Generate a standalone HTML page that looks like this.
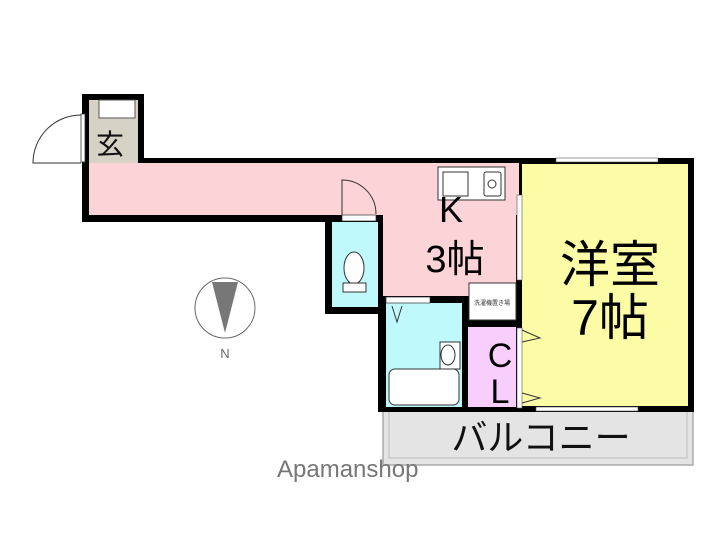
<!DOCTYPE html>
<html><head><meta charset="utf-8"><style>
html,body{margin:0;padding:0;background:#fff;width:720px;height:540px;overflow:hidden}
</style></head><body>
<svg width="720" height="540" viewBox="0 0 720 540" xmlns="http://www.w3.org/2000/svg" font-family="'Liberation Sans','Noto Sans CJK JP',sans-serif">
<!-- balcony -->
<rect x="383" y="410" width="310" height="55" fill="#e4e4e4" stroke="#aaa" stroke-width="1.5"/>
<rect x="389" y="410" width="298" height="48" fill="none" stroke="#bbb" stroke-width="1"/>
<text x="541" y="450" font-size="36" text-anchor="middle" fill="#111">バルコニー</text>
<!-- walls base -->
<rect x="82" y="94" width="62" height="72" fill="#000"/>
<rect x="82" y="158" width="442" height="64" fill="#000"/>
<rect x="325" y="215" width="62" height="99" fill="#000"/>
<rect x="378" y="158" width="146" height="254" fill="#000"/>
<rect x="516" y="158" width="178" height="254" fill="#000"/>
<!-- genkan -->
<rect x="89" y="100" width="49" height="63" fill="#d6d2c6"/>
<rect x="99" y="100" width="36" height="18" fill="#fff" stroke="#555" stroke-width="1"/>
<text x="110" y="154" font-size="28" text-anchor="middle" fill="#111">玄</text>
<!-- corridor -->
<rect x="89" y="163" width="430" height="52" fill="#fcd3d6"/>
<rect x="383" y="163" width="133" height="133" fill="#fcd3d6"/>
<!-- front door -->
<rect x="81" y="114" width="4" height="48" fill="#fff" stroke="#333" stroke-width="0.8"/>
<path d="M81 163 L33 163 A48 48 0 0 1 81 115" fill="none" stroke="#333" stroke-width="1"/>
<!-- toilet -->
<rect x="332" y="222" width="46" height="85" fill="#bff9fc"/>
<rect x="342" y="215" width="34" height="6" fill="#fff" stroke="#333" stroke-width="0.7"/>
<path d="M342 215 L342 180 A34 34 0 0 1 376 214" fill="none" stroke="#333" stroke-width="1"/>
<ellipse cx="354" cy="268" rx="10" ry="16" fill="#fff" stroke="#333"/>
<rect x="343" y="283" width="23" height="9" fill="#fff" stroke="#333"/>
<!-- kitchen sink -->
<rect x="438" y="167" width="67" height="33" fill="#fff" stroke="#333"/>
<rect x="443" y="172" width="25" height="24" fill="#fff" stroke="#333"/>
<rect x="484" y="172" width="17" height="24" rx="2" fill="#fff" stroke="#333"/>
<circle cx="492" cy="184" r="4" fill="#fff" stroke="#333"/>
<text x="451" y="222" font-size="36" text-anchor="middle" fill="#000">K</text>
<text x="455" y="272" font-size="38" text-anchor="middle" fill="#000">3帖</text>
<!-- bath -->
<rect x="386" y="303" width="76" height="104" fill="#bff9fc"/>
<rect x="386" y="297" width="44" height="6" fill="#fff" stroke="#333" stroke-width="0.7"/>
<path d="M392 306 L397 322 L402 306" fill="none" stroke="#333"/>
<rect x="389" y="369" width="70" height="36" rx="6" fill="#fff" stroke="#333"/>
<rect x="440" y="342" width="20" height="27" fill="#fff" stroke="#333"/>
<ellipse cx="448" cy="355" rx="7" ry="10" fill="#fff" stroke="#333"/>
<!-- washer -->
<rect x="469" y="283" width="47" height="37" fill="#fff" stroke="#333"/>
<text x="492" y="305" font-size="6" text-anchor="middle" fill="#333">洗濯機置き場</text>
<!-- CL -->
<rect x="468" y="327" width="48" height="80" fill="#f8cffc"/>
<text x="500" y="367" font-size="34" text-anchor="middle" fill="#000">C</text>
<text x="500" y="403" font-size="34" text-anchor="middle" fill="#000">L</text>
<!-- youshitsu -->
<rect x="522" y="164" width="166" height="242" fill="#fdfca6"/>
<rect x="517" y="195" width="5" height="85" fill="#fff" stroke="#555" stroke-width="0.6"/>
<rect x="517" y="328" width="5" height="80" fill="#fff" stroke="#555" stroke-width="0.6"/>
<path d="M522 330 L540 338 L522 342 M522 393 L540 398 L522 403" fill="none" stroke="#333"/>
<rect x="556" y="158" width="102" height="4" fill="#fff" stroke="#555" stroke-width="0.6"/>
<rect x="536" y="407" width="102" height="4" fill="#fff" stroke="#555" stroke-width="0.6"/>
<text x="610" y="282" font-size="50" text-anchor="middle" fill="#000">洋室</text>
<text x="610" y="335" font-size="50" text-anchor="middle" fill="#000">7帖</text>
<!-- compass -->
<circle cx="225" cy="308" r="30" fill="#fff" stroke="#666" stroke-width="1"/>
<path d="M212 282 L238 282 L225 333 Z" fill="#777"/>
<text x="225" y="358" font-size="13" text-anchor="middle" fill="#666">N</text>
<text x="277" y="477" font-size="24" fill="#777">Apamanshop</text>
</svg>
</body></html>
